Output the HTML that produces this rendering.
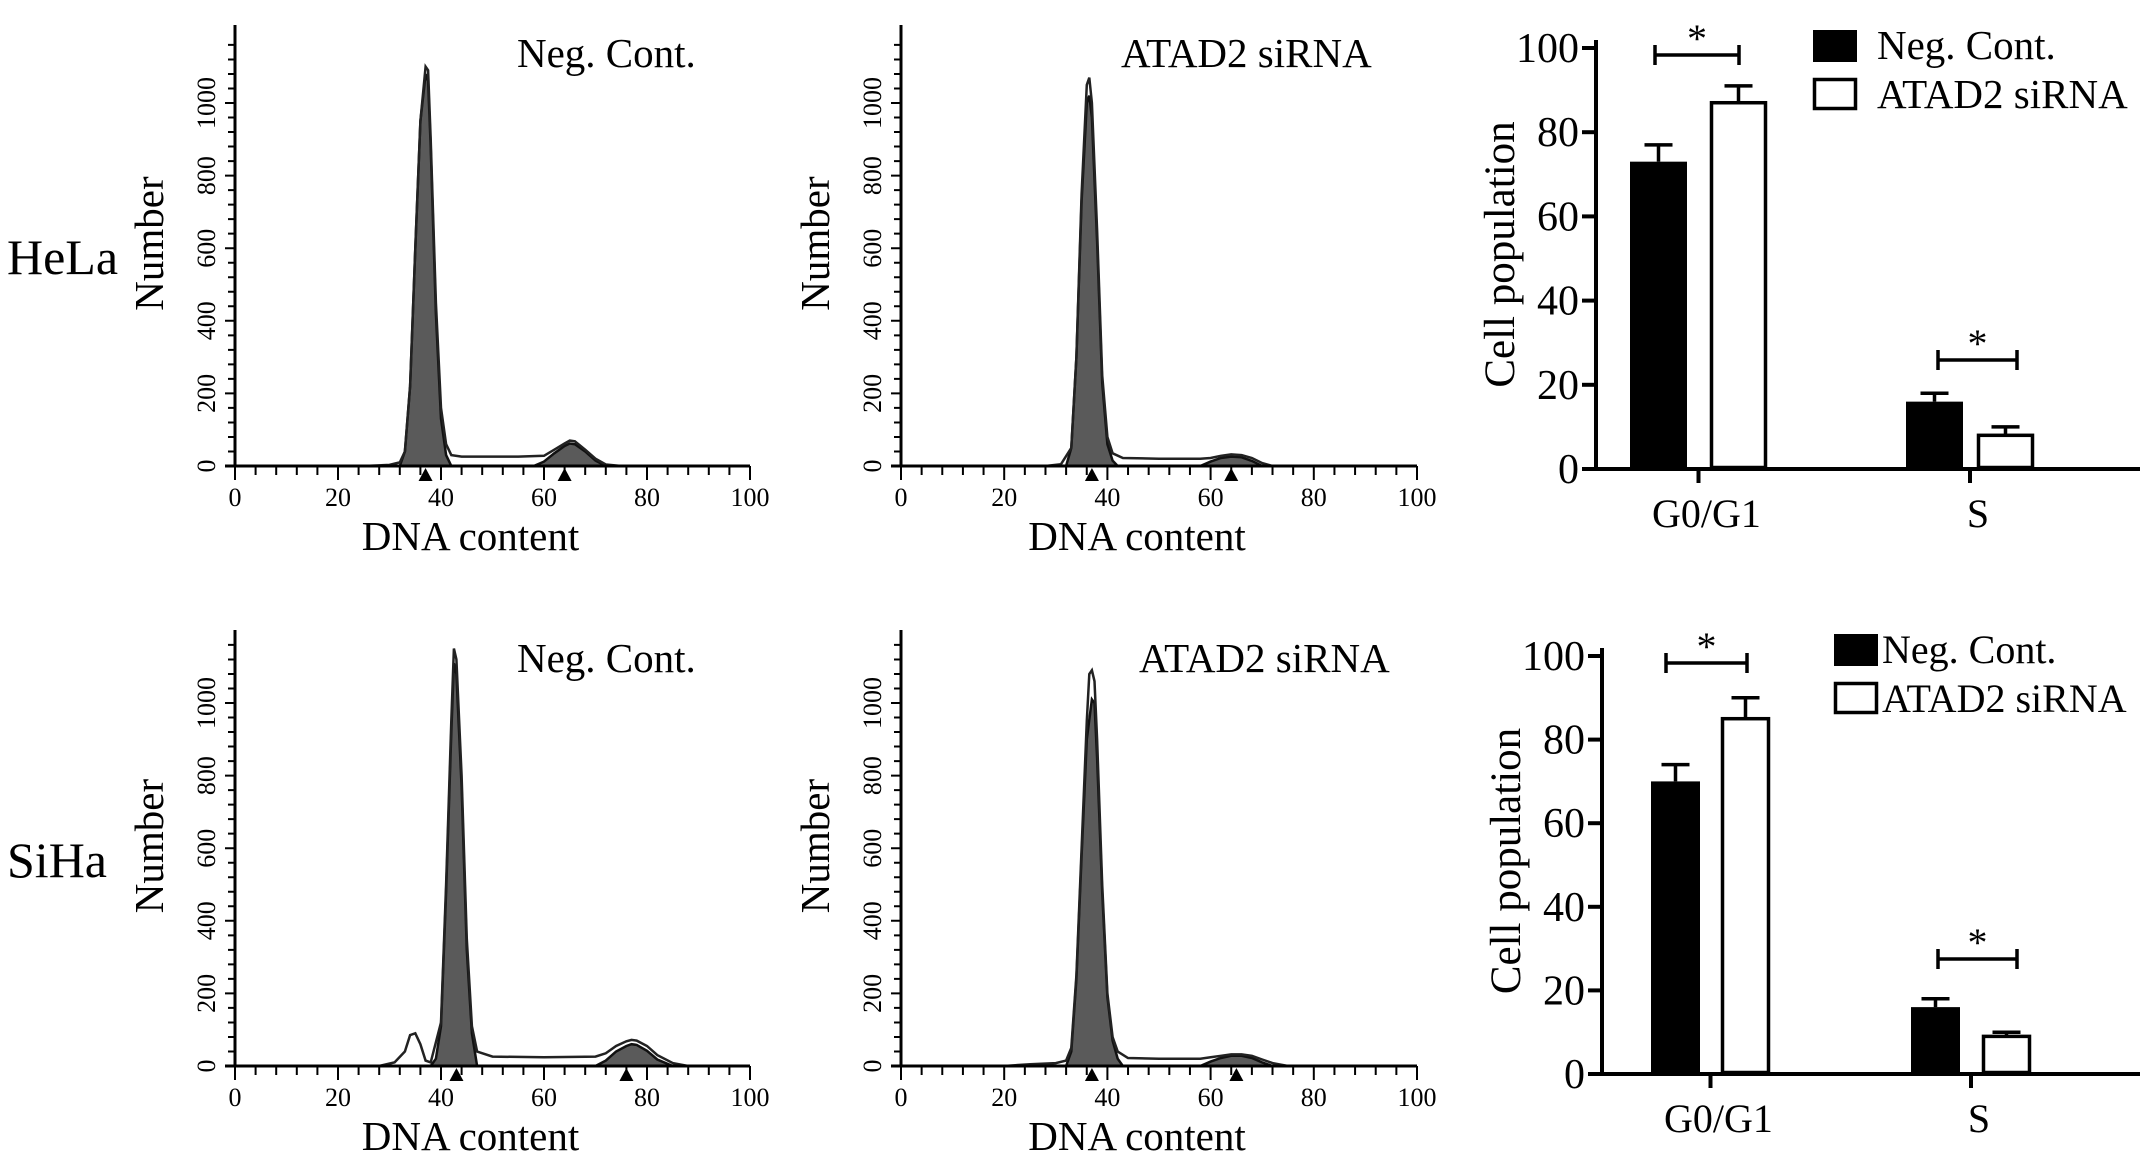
<!DOCTYPE html>
<html><head><meta charset="utf-8"><style>
html,body{margin:0;padding:0;background:#fff;}
svg{display:block;font-family:"Liberation Serif",serif;}
text{font-family:"Liberation Serif",serif;}
</style></head><body>
<svg id="fig" width="2150" height="1175" viewBox="0 0 2150 1175" xmlns="http://www.w3.org/2000/svg">
<text x="7" y="274" font-size="50" font-family="Liberation Serif, serif">HeLa</text>
<text x="7" y="877" font-size="50" font-family="Liberation Serif, serif">SiHa</text>
</svg>
<script>
// ---- histogram data (DNA content x, cell count) ----
var helaNcX   = [25,30,32,33,34,35,36,37,37.5,38,39,40,41,42,44,50,55,60,62,64,65,66,68,70,72,75];
var helaNcY   = [0,3,10,40,220,600,950,1100,1090,900,450,160,60,30,26,26,26,28,45,62,70,68,45,20,4,0];
var helaNcG1X = [32,33,34,35,36,37,37.5,38,39,40,41,42];
var helaNcG1Y = [0,40,220,600,950,1080,1060,880,420,130,30,0];
var helaNcG2X = [58,60,62,64,65,66,68,70,72];
var helaNcG2Y = [0,12,35,55,62,60,40,15,0];

var helaSiX   = [28,31,33,34,35,36,36.5,37,38,39,40,41,43,50,58,60,62,64,66,68,70,72];
var helaSiY   = [0,5,50,300,750,1050,1070,1000,650,250,80,35,22,20,20,22,28,32,30,22,8,0];
var helaSiG1X = [32,33,34,35,36,36.5,37,38,39,40,41,42];
var helaSiG1Y = [0,50,300,730,1000,1020,960,620,230,60,15,0];
var helaSiG2X = [58,60,62,64,66,68,70];
var helaSiG2Y = [0,12,22,26,24,14,0];

var sihaNcX   = [28,31,33,34,35,36,37,38,40,41,42,42.5,43,44,45,46,47,50,60,70,72,74,76,77,78,80,82,85,88];
var sihaNcY   = [0,10,40,85,90,60,15,10,120,500,950,1150,1120,800,350,110,40,26,24,26,35,55,68,72,70,55,30,8,0];
var sihaNcG1X = [38,39,40,41,42,42.5,43,44,45,46,47];
var sihaNcG1Y = [0,20,110,480,920,1110,1080,770,320,90,0];
var sihaNcG2X = [70,72,74,76,77,78,80,82,85];
var sihaNcG2Y = [0,15,40,55,60,58,42,18,0];

var sihaSiX   = [20,25,30,32,33,34,35,36,36.5,37,37.5,38,39,40,41,42,44,50,58,60,62,64,66,68,70,72,75];
var sihaSiY   = [0,5,8,15,50,250,600,950,1080,1090,1060,900,500,200,80,40,22,20,20,24,28,32,32,28,18,8,0];
var sihaSiG1X = [32,33,34,35,36,37,37.5,38,39,40,41,42,43];
var sihaSiG1Y = [0,40,240,580,900,1010,1000,850,480,190,70,20,0];
var sihaSiG2X = [58,60,62,64,66,68,70,72];
var sihaSiG2Y = [0,12,22,28,28,22,10,0];

var histXTicks = [0,20,40,60,80,100];
var histYTicks = [0,200,400,600,800,1000];

// ---- bar chart data ----
var barCategories = ["G0/G1","S"];
var helaNegCont   = [73,16];
var helaNegErr    = [4,2];
var helaSiRNA     = [87,8];
var helaSiErr     = [4,2];
var sihaNegCont   = [70,16];
var sihaNegErr    = [4,2];
var sihaSiRNA     = [85,9];
var sihaSiErr     = [5,1];
var barYTicks     = [0,20,40,60,80,100];

var NS="http://www.w3.org/2000/svg";
var svg=document.getElementById('fig');
function mk(tag,attrs,parent){var e=document.createElementNS(NS,tag);for(var k in attrs)e.setAttribute(k,attrs[k]);if(tag==='text')e.setAttribute('font-family','Liberation Serif, serif');(parent||svg).appendChild(e);return e;}

function histogram(id,ox,x100,y0,y1000,top,title,titleX,X,Y,G1X,G1Y,G2X,G2Y,m1,m2){
  var g=mk('g',{});
  
  
  function sx(v){return ox+(x100-ox)*v/100;}
  function sy(v){return y0-(y0-y1000)*v/1000;}
  function poly(xs,ys){var p=[];for(var i=0;i<xs.length;i++)p.push(sx(xs[i]).toFixed(1)+','+sy(ys[i]).toFixed(1));return p.join(' ');}
  var f1=mk('polygon',{points:poly(G1X,G1Y),fill:'#5a5a5a',stroke:'#111','stroke-width':2.5},g);
  
  
  var f2=mk('polygon',{points:poly(G2X,G2Y),fill:'#5a5a5a',stroke:'#111','stroke-width':2.5},g);
  
  
  var ln=mk('polyline',{points:poly(X,Y),fill:'none',stroke:'#222','stroke-width':2.5},g);
  
  
  var ax=mk('path',{d:'M'+ox+','+top+'V'+y0+'M'+(ox-10)+','+y0+'H'+x100,stroke:'#000','stroke-width':3,fill:'none'},g);
  
  
  var d='';
  for(var v=0;v<=100;v+=4){d+='M'+sx(v)+','+y0+'v'+(v%20==0?14:9);}
  for(var w=0;w<=1160;w+=40){var yy=sy(w);if(yy<top)break;d+='M'+ox+','+yy+'h'+(w%200==0?-10:-7);}
  mk('path',{d:d,stroke:'#000','stroke-width':2,fill:'none'},g);
  histXTicks.forEach(function(t){var e=mk('text',{x:sx(t),y:y0+40,'font-size':26,'text-anchor':'middle'},g);e.textContent=t;
    
    });
  histYTicks.forEach(function(t){var yy=sy(t);var e=mk('text',{x:ox-20,y:yy,'font-size':26,'text-anchor':'middle',transform:'rotate(-90 '+(ox-20)+' '+yy+')'},g);e.textContent=t;
    
    });
  [m1,m2].forEach(function(m){var x=sx(m);var t=mk('polygon',{points:(x-7)+','+(y0+15)+' '+(x+7)+','+(y0+15)+' '+x+','+(y0+2),fill:'#000'},g);
    
    });
  var xl=mk('text',{x:(ox+x100)/2-22,y:y0+84,'font-size':41,'text-anchor':'middle'},g);xl.textContent='DNA content';
  
  
  var cy=(top+y0)/2-2;
  var yl=mk('text',{x:ox-72,y:cy,'font-size':41,'text-anchor':'middle',transform:'rotate(-90 '+(ox-72)+' '+cy+')'},g);yl.textContent='Number';
  
  
  var tt=mk('text',{x:titleX,y:top+42,'font-size':41},g);tt.textContent=title;
  
  
}

histogram('hela-neg-cont-histogram',235,750,466,103,25,'Neg. Cont.',517,helaNcX,helaNcY,helaNcG1X,helaNcG1Y,helaNcG2X,helaNcG2Y,37,64);
histogram('hela-atad2-histogram',901,1417,466,103,25,'ATAD2 siRNA',1121,helaSiX,helaSiY,helaSiG1X,helaSiG1Y,helaSiG2X,helaSiG2Y,37,64);
histogram('siha-neg-cont-histogram',235,750,1066,703,630,'Neg. Cont.',517,sihaNcX,sihaNcY,sihaNcG1X,sihaNcG1Y,sihaNcG2X,sihaNcG2Y,43,76);
histogram('siha-atad2-histogram',901,1417,1066,703,630,'ATAD2 siRNA',1139,sihaSiX,sihaSiY,sihaSiG1X,sihaSiG1Y,sihaSiG2X,sihaSiG2Y,37,65);

function barChart(id,ax,y0,y100,cats,nc,ncE,si,siE,ncLeft,siLeft,barW,legX,legY,legOff,legFont,sig){
  var g=mk('g',{});
  
  
  function sy(v){return y0-(y0-y100)*v/100;}
  var axes=mk('path',{d:'M'+ax+','+(y100-8)+'V'+y0+'M'+(ax-14)+','+y0+'H2140',stroke:'#000','stroke-width':4,fill:'none'},g);
  
  
  barYTicks.forEach(function(t){var yy=sy(t);mk('path',{d:'M'+(ax-14)+','+yy+'h14',stroke:'#000','stroke-width':4},g);
    var e=mk('text',{x:ax-17,y:yy+14,'font-size':42,'text-anchor':'end'},g);e.textContent=t;
    
    });
  cats.forEach(function(c,i){
    var x1=ncLeft[i], x2=siLeft[i];
    var b1=mk('rect',{x:x1,y:sy(nc[i]),width:barW,height:y0-sy(nc[i]),fill:'#000'},g);
    
    
    var b2=mk('rect',{x:x2+1.5,y:sy(si[i]),width:barW-3,height:y0-sy(si[i])-1.5,fill:'#fff',stroke:'#000','stroke-width':3.5},g);
    
    
    [[x1,nc[i],ncE[i]],[x2,si[i],siE[i]]].forEach(function(a){var cx=a[0]+barW/2;var e=mk('path',{d:'M'+cx+','+sy(a[1])+'V'+sy(a[1]+a[2])+'M'+(cx-14)+','+sy(a[1]+a[2])+'h28',stroke:'#000','stroke-width':3.5,fill:'none'},g);
      
      });
    var tc=(x1+barW+x2)/2;
    mk('path',{d:'M'+tc+','+y0+'v14',stroke:'#000','stroke-width':4},g);
    var lab=mk('text',{x:tc+8,y:y0+58,'font-size':40,'text-anchor':'middle'},g);lab.textContent=c;
    
    
    var s=sig[i];
    var sb=mk('path',{d:'M'+s[0]+','+(s[2]-10)+'v20M'+s[0]+','+s[2]+'H'+s[1]+'M'+s[1]+','+(s[2]-10)+'v20',stroke:'#000','stroke-width':3.5,fill:'none'},g);
    
    
    var st=mk('text',{x:(s[0]+s[1])/2,y:s[2]-3,'font-size':40,'text-anchor':'middle'},g);st.textContent='*';
    
    
  });
  var cy=(y0+y100)/2-4;
  var yl=mk('text',{x:ax-82,y:cy,'font-size':43,'text-anchor':'middle',transform:'rotate(-90 '+(ax-82)+' '+cy+')'},g);yl.textContent='Cell population';
  
  
  var l1=mk('rect',{x:legX,y:legY,width:44,height:32,fill:'#000'},g);
  
  
  var l2=mk('rect',{x:legX+1.5,y:legY+49.5,width:41,height:29,fill:'#fff',stroke:'#000','stroke-width':3.5},g);
  
  
  var t1=mk('text',{x:legX+legOff,y:legY+29,'font-size':legFont},g);t1.textContent='Neg. Cont.';
  
  
  var t2=mk('text',{x:legX+legOff,y:legY+78,'font-size':legFont},g);t2.textContent='ATAD2 siRNA';
  
  
}
barChart('hela-bar-chart',1596,469,48,barCategories,helaNegCont,helaNegErr,helaSiRNA,helaSiErr,[1630,1906],[1710,1977],57,1813,30,64,41,[[1655,1739,55],[1938,2017,360]]);
barChart('siha-bar-chart',1602,1074,656,barCategories,sihaNegCont,sihaNegErr,sihaSiRNA,sihaSiErr,[1651,1911],[1721,1982],49,1834,634,48,40,[[1666,1747,663],[1938,2017,959]]);
</script>
</body></html>
